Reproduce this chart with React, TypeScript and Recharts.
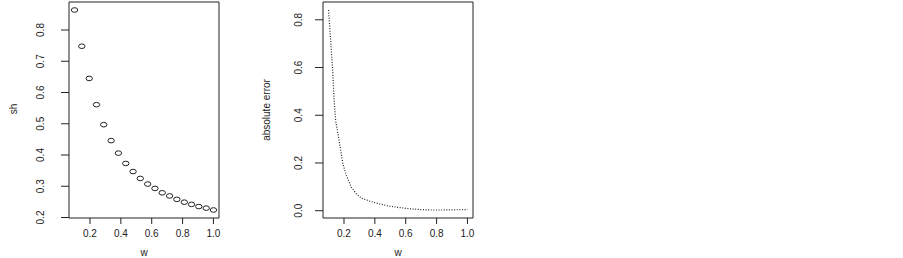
import React from 'react';
import { ScatterChart, Scatter, LineChart, Line, XAxis, YAxis, ReferenceArea } from 'recharts';

// ---- data ----
const shW = [0.10, 0.147, 0.195, 0.242, 0.289, 0.337, 0.384, 0.432, 0.479, 0.526, 0.574, 0.621, 0.668, 0.716, 0.763, 0.811, 0.858, 0.905, 0.953, 1.00];
const shValues = [0.864, 0.748, 0.645, 0.561, 0.497, 0.446, 0.406, 0.373, 0.347, 0.325, 0.307, 0.293, 0.279, 0.269, 0.258, 0.249, 0.242, 0.235, 0.230, 0.224];

const errW = [0.10, 0.115, 0.127, 0.135, 0.146, 0.161, 0.179, 0.193, 0.216, 0.248, 0.281, 0.313, 0.367, 0.432, 0.497, 0.562, 0.627, 0.692, 0.757, 0.842, 0.931, 1.00];
const errValues = [0.841, 0.698, 0.586, 0.475, 0.377, 0.321, 0.251, 0.196, 0.147, 0.098, 0.070, 0.053, 0.040, 0.028, 0.019, 0.013, 0.008, 0.005, 0.003, 0.003, 0.004, 0.005];

const wTicks = [0.2, 0.4, 0.6, 0.8, 1.0];
const shTicks = [0.2, 0.3, 0.4, 0.5, 0.6, 0.7, 0.8];
const errTicks = [0.0, 0.2, 0.4, 0.6, 0.8];

const xTitle = 'w';
const shTitle = 'sh';
const errTitle = 'absolute error';

// ---- helpers ----
const FONT = '"Liberation Sans", Arial, Helvetica, sans-serif';
const INK = '#222';

const pad = (vals: number[]): [number, number] => {
  const mn = Math.min(...vals);
  const mx = Math.max(...vals);
  const r = mx - mn;
  return [mn - 0.04 * r, mx + 0.04 * r];
};

const shData = shW.map((w, i) => ({ w, sh: shValues[i] }));
const errData = errW.map((w, i) => ({ w, err: errValues[i] }));

const xDomShared = pad(shW);
const xDomErr = pad(errW);
const yDomSh = pad(shValues);
const yDomErr = pad(errValues);

const makeYTick = (bx: number) => (props: any) => {
  const { y, payload } = props;
  return (
    <text
      x={bx}
      y={y}
      transform={`rotate(-90 ${bx} ${y})`}
      textAnchor="middle"
      fontSize={10}
      fill={INK}
      fontFamily={FONT}
    >
      {Number(payload.value).toFixed(1)}
    </text>
  );
};

const makeYTitle = (text: string, bx: number, cy: number) => () => (
  <text
    x={bx}
    y={cy}
    transform={`rotate(-90 ${bx} ${cy})`}
    textAnchor="middle"
    fontSize={10}
    fill={INK}
    fontFamily={FONT}
  >
    {text}
  </text>
);

const makeXTitle = (text: string) => (props: any) => {
  const vb = props.viewBox || { x: 69, width: 150 };
  return (
    <text x={vb.x + vb.width / 2} y={256} textAnchor="middle" fontSize={10} fill={INK} fontFamily={FONT}>
      {text}
    </text>
  );
};

const Circle = (p: any) => (
  <ellipse cx={p.cx} cy={p.cy} rx={3.2} ry={2.3} fill="none" stroke={INK} strokeWidth={1} />
);

const tickStyle = { fontSize: 10, fill: INK, fontFamily: FONT };
const fmt = (v: number) => v.toFixed(1);

export default function App() {
  return (
    <div style={{ position: 'absolute', left: 0, top: 0, width: 903, height: 258, background: '#fff', overflow: 'hidden' }}>
      <div style={{ position: 'absolute', left: 0, top: 0 }}>
        <ScatterChart width={245} height={258} margin={{ top: 2, right: 26, bottom: 0, left: 0 }}>
          <XAxis
            type="number"
            dataKey="w"
            domain={xDomShared}
            ticks={wTicks}
            tickFormatter={fmt}
            allowDataOverflow
            height={40}
            axisLine={false}
            tickLine={{ stroke: INK }}
            tickSize={6}
            tickMargin={6}
            tick={tickStyle}
            label={{ content: makeXTitle(xTitle) }}
          />
          <YAxis
            type="number"
            dataKey="sh"
            domain={yDomSh}
            ticks={shTicks}
            allowDataOverflow
            width={69}
            axisLine={false}
            tickLine={{ stroke: INK }}
            tickSize={8}
            tick={makeYTick(44)}
            label={{ content: makeYTitle(shTitle, 16.5, 109) }}
          />
          <ReferenceArea
            x1={xDomShared[0]}
            x2={xDomShared[1]}
            y1={yDomSh[0]}
            y2={yDomSh[1]}
            fill="none"
            fillOpacity={0}
            stroke={INK}
            strokeWidth={1}
            ifOverflow="visible"
          />
          <Scatter data={shData} shape={Circle} isAnimationActive={false} />
        </ScatterChart>
      </div>
      <div style={{ position: 'absolute', left: 254, top: 0 }}>
        <LineChart width={245} height={258} data={errData} margin={{ top: 2, right: 26, bottom: 0, left: 0 }}>
          <XAxis
            type="number"
            dataKey="w"
            domain={xDomErr}
            ticks={wTicks}
            tickFormatter={fmt}
            allowDataOverflow
            height={40}
            axisLine={false}
            tickLine={{ stroke: INK }}
            tickSize={6}
            tickMargin={6}
            tick={tickStyle}
            label={{ content: makeXTitle(xTitle) }}
          />
          <YAxis
            type="number"
            domain={yDomErr}
            ticks={errTicks}
            allowDataOverflow
            width={69}
            axisLine={false}
            tickLine={{ stroke: INK }}
            tickSize={8}
            tick={makeYTick(48)}
            label={{ content: makeYTitle(errTitle, 16, 110) }}
          />
          <ReferenceArea
            x1={xDomErr[0]}
            x2={xDomErr[1]}
            y1={yDomErr[0]}
            y2={yDomErr[1]}
            fill="none"
            fillOpacity={0}
            stroke={INK}
            strokeWidth={1}
            ifOverflow="visible"
          />
          <Line
            type="linear"
            dataKey="err"
            stroke={INK}
            strokeWidth={1.2}
            strokeDasharray="1 1.6"
            dot={false}
            isAnimationActive={false}
          />
        </LineChart>
      </div>
    </div>
  );
}
